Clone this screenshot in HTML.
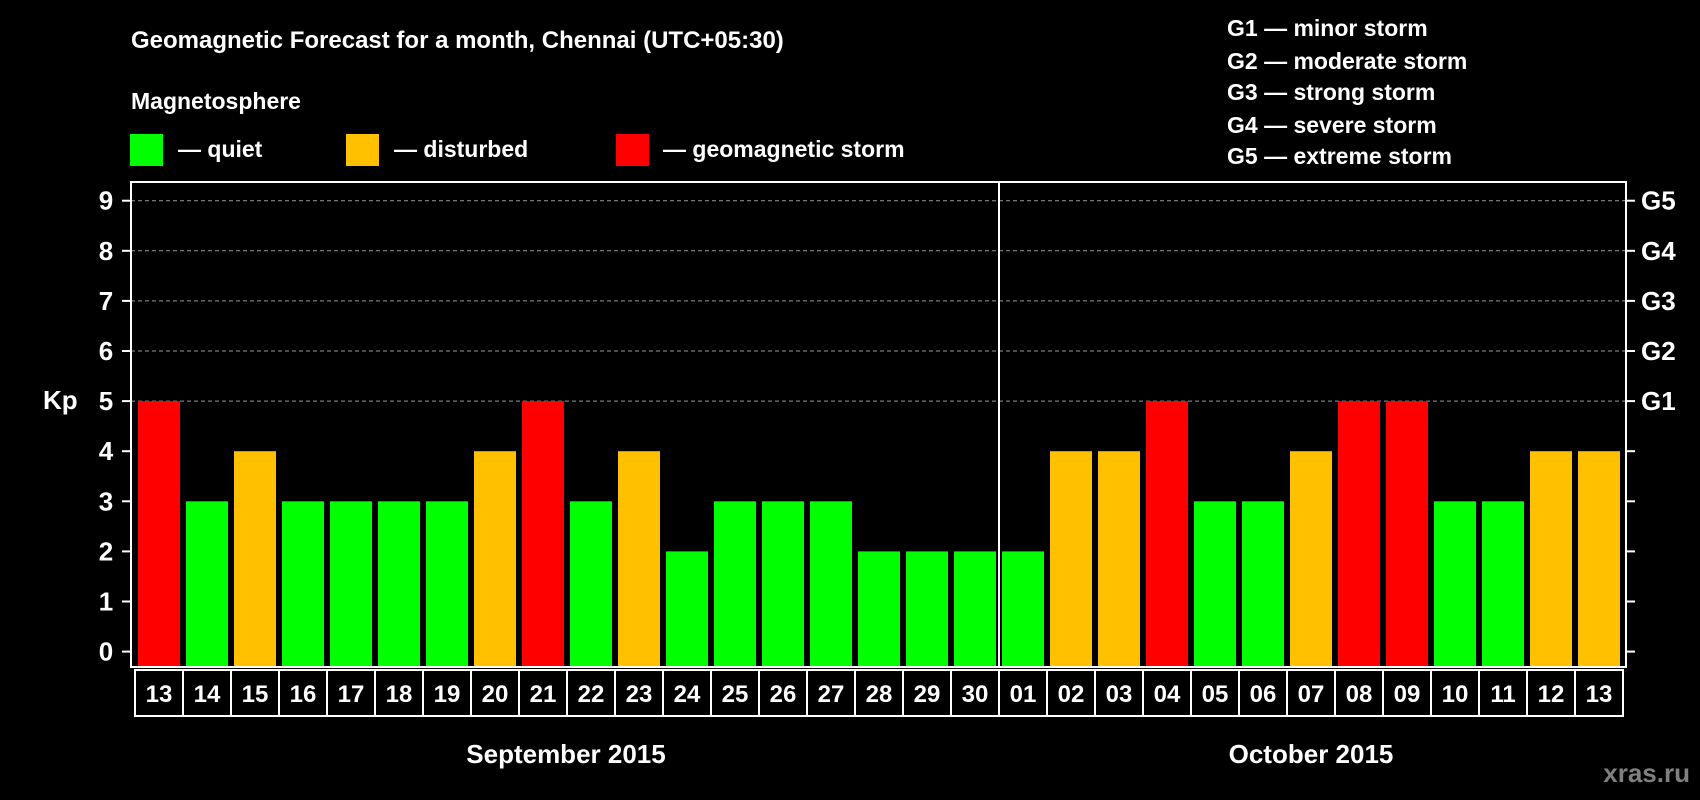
<!DOCTYPE html>
<html><head><meta charset="utf-8"><style>
html,body{margin:0;padding:0;background:#000;}
svg{display:block;font-family:"Liberation Sans",Arial,sans-serif;font-weight:bold;}
</style></head><body>
<svg id="chart" width="1700" height="800" viewBox="0 0 1700 800">
<rect width="1700" height="800" fill="#000"/>
<text x="131" y="48" fill="#fff" font-size="24">Geomagnetic Forecast for a month, Chennai (UTC+05:30)</text>
<text x="131" y="109" fill="#fff" font-size="23">Magnetosphere</text>
<g><rect x="130" y="134" width="33" height="32" fill="#00ff00"/><text x="178" y="157" fill="#fff" font-size="23">— quiet</text></g>
<g><rect x="346" y="134" width="33" height="32" fill="#ffc000"/><text x="394" y="157" fill="#fff" font-size="23">— disturbed</text></g>
<g><rect x="616" y="134" width="33" height="32" fill="#ff0000"/><text x="663" y="157" fill="#fff" font-size="23">— geomagnetic storm</text></g>
<g fill="#fff" font-size="23">
<text x="1227" y="36">G1 — minor storm</text>
<text x="1227" y="69">G2 — moderate storm</text>
<text x="1227" y="100">G3 — strong storm</text>
<text x="1227" y="133">G4 — severe storm</text>
<text x="1227" y="164">G5 — extreme storm</text>
</g>
<text x="43" y="409" fill="#fff" font-size="26">Kp</text>
<g id="grid"></g><g id="bars"></g><g id="axes"></g>
<text x="566" y="763" fill="#fff" font-size="26" text-anchor="middle">September 2015</text>
<text x="1311" y="763" fill="#fff" font-size="26" text-anchor="middle">October 2015</text>
<text x="1690" y="782" fill="#808080" font-size="26" text-anchor="end">xras.ru</text>
</svg>
<script>
const days = ["13","14","15","16","17","18","19","20","21","22","23","24","25","26","27","28","29","30","01","02","03","04","05","06","07","08","09","10","11","12","13"];
const kp = [5,3,4,3,3,3,3,4,5,3,4,2,3,3,3,2,2,2,2,4,4,5,3,3,4,5,5,3,3,4,4];
const yTicks = [0,1,2,3,4,5,6,7,8,9];
const gLabels = ["","","","","","G1","G2","G3","G4","G5"];
const NS="http://www.w3.org/2000/svg";
const L=131,R=1626,T=182,B=667,y0=651.6,unit=50.1,bx=138,pitch=48,bw=42;
const y=v=>y0-v*unit, x=i=>bx+i*pitch;
function mk(tag,attrs,parent){const e=document.createElementNS(NS,tag);for(const k in attrs)e.setAttribute(k,attrs[k]);parent.appendChild(e);return e;}
const grid=document.getElementById('grid'),bars=document.getElementById('bars'),axes=document.getElementById('axes');
yTicks.forEach((v,i)=>{
  if(v>=5){const g=mk('line',{x1:L,x2:R,y1:y(v),y2:y(v),stroke:'#999','stroke-dasharray':'4,3','stroke-width':1},grid);
  
  }
  const t1=mk('line',{x1:L-9,x2:L,y1:y(v),y2:y(v),stroke:'#fff','stroke-width':2},axes);
  
  
  const t2=mk('line',{x1:R,x2:R+9,y1:y(v),y2:y(v),stroke:'#fff','stroke-width':2},axes);
  
  
  const lb=mk('text',{x:106,y:y(v)+9,fill:'#fff','font-size':26,'text-anchor':'middle'},axes);lb.textContent=v;
  
  
  if(gLabels[i]){const gl=mk('text',{x:1641,y:y(v)+9,fill:'#fff','font-size':26},axes);gl.textContent=gLabels[i];
  
  }
});
kp.forEach((v,i)=>{
  const c=v>=5?'#ff0000':(v>=4?'#ffc000':'#00ff00');
  const r=mk('rect',{x:x(i),y:y(v),width:bw,height:B-y(v),fill:c},bars);
  
  
  const cell=mk('rect',{x:x(i)-3,y:670,width:pitch,height:46,fill:'none',stroke:'#fff','stroke-width':2},axes);
  
  
  const t=mk('text',{x:x(i)+bw/2,y:702,fill:'#fff','font-size':24,'text-anchor':'middle'},axes);t.textContent=days[i];
  
  
});
const frame=mk('rect',{x:L,y:T,width:R-L,height:B-T,fill:'none',stroke:'#fff','stroke-width':2},axes);


const sepX=x(18)-3;
const sep=mk('line',{x1:sepX,x2:sepX,y1:T,y2:B,stroke:'#fff','stroke-width':2},axes);


</script>
</body></html>
